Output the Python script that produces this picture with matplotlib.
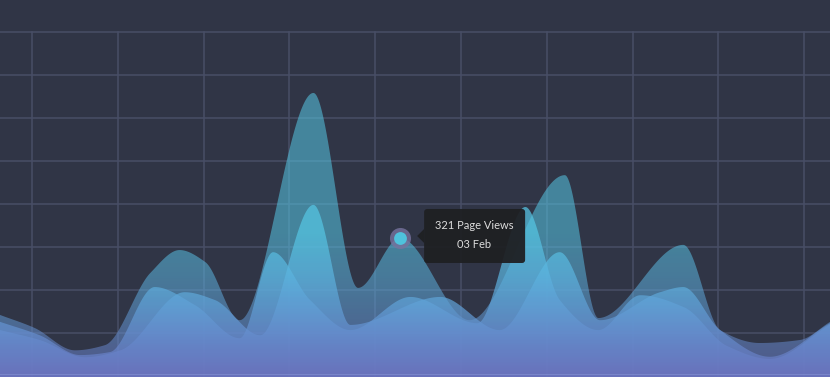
import numpy as np
import matplotlib
matplotlib.use("Agg")
import matplotlib.pyplot as plt
from matplotlib.colors import LinearSegmentedColormap
from matplotlib.patches import Polygon, FancyBboxPatch
import matplotlib.transforms as mtransforms

# page views per day (x = day index, one grid column per day)
a_x = [-0.37, 0.03, 0.50, 0.85, 1.38, 1.72, 2.02, 2.42, 3.28, 3.80, 4.29, 5.10, 6.21, 6.60, 7.59, 8.02, 8.48, 8.95, 9.30]
a_y = [142, 112, 60, 72, 240, 293, 265, 130, 658, 205, 321, 130, 467, 135, 305, 107, 77, 84, 126]

b_x = [-0.37, 0.09, 0.56, 0.91, 1.43, 1.90, 2.42, 2.81, 3.24, 3.71, 4.41, 5.19, 5.75, 6.15, 6.60, 7.09, 7.60, 8.10, 8.60, 9.30]
b_y = [126, 95, 49, 56, 207, 165, 88, 288, 177, 107, 184, 123, 393, 177, 107, 188, 160, 70, 40, 120]

c_x = [-0.37, 0.09, 0.62, 1.03, 1.78, 2.13, 2.66, 3.28, 3.71, 4.76, 5.45, 6.15, 6.62, 7.32, 7.59, 8.02, 8.60, 9.30]
c_y = [107, 84, 44, 60, 195, 177, 95, 398, 119, 184, 107, 288, 130, 195, 207, 107, 45, 123]

tip_x = 4.29
tip_views = 321
tip_date = "03 Feb"

BG = "#303546"
GRID = "#484e66"


def smooth(x, y, xs):
    # monotone cubic (pchip) through the points, for a smooth area edge
    x = np.asarray(x, float)
    y = np.asarray(y, float)
    h = np.diff(x)
    d = np.diff(y) / h
    m = np.zeros_like(y)
    for k in range(1, len(x) - 1):
        if d[k - 1] * d[k] > 0:
            w1 = 2 * h[k] + h[k - 1]
            w2 = h[k] + 2 * h[k - 1]
            m[k] = (w1 + w2) / (w1 / d[k - 1] + w2 / d[k])
    m[0], m[-1] = d[0], d[-1]
    i = np.clip(np.searchsorted(x, xs) - 1, 0, len(h) - 1)
    t = (xs - x[i]) / h[i]
    h00 = 2 * t**3 - 3 * t**2 + 1
    h10 = t**3 - 2 * t**2 + t
    h01 = -2 * t**3 + 3 * t**2
    h11 = t**3 - t**2
    return h00 * y[i] + h10 * h[i] * m[i] + h01 * y[i + 1] + h11 * h[i] * m[i + 1]


fig = plt.figure(figsize=(8.3, 3.77), dpi=100)
ax = fig.add_axes([0, 0, 1, 1])
ax.set_facecolor(BG)
x0, x1 = -0.373, 9.30
y0, y1 = -2, 874
ax.set_xlim(x0, x1)
ax.set_ylim(y0, y1)

for gx in range(0, 10):
    ax.plot([gx, gx], [y0, 800], color=GRID, lw=1.1, zorder=0)
for gy in range(100, 900, 100):
    ax.axhline(gy, color=GRID, lw=1.1, zorder=0)

cmap = LinearSegmentedColormap.from_list(
    "views", [(0.0, "#6c74c0"), (0.12, "#6590d0"), (0.26, "#5cb2de"), (0.38, "#56c6e4"), (1.0, "#58cbe6")])
grad = np.linspace(0, 1, 600).reshape(-1, 1)
xs = np.linspace(x0, x1, 1200)

for sx, sy, alpha, z in [(a_x, a_y, 0.55, 2), (b_x, b_y, 0.72, 3), (c_x, c_y, 0.72, 4)]:
    ys = smooth(sx, sy, xs)
    poly = ax.fill_between(xs, ys, y0, facecolor="none", edgecolor="none")
    im = ax.imshow(grad, extent=[x0, x1, y0, y1], origin="lower", aspect="auto",
                   cmap=cmap, alpha=alpha, zorder=z)
    im.set_clip_path(poly.get_paths()[0], transform=ax.transData)

ax.set_xlim(x0, x1)
ax.set_ylim(y0, y1)
ax.axhline(4, color="#8a98d8", lw=0.8, alpha=0.5, zorder=5)

# hovered point
ax.scatter([tip_x], [tip_views], s=230, color="#77739e", alpha=0.8, zorder=6, linewidths=0)
ax.scatter([tip_x], [tip_views], s=85, color="#4fc2dc", zorder=7, linewidths=0)

# tooltip, drawn in pixels next to the point
px, py = ax.transData.transform((tip_x, tip_views))
off = mtransforms.Affine2D().translate(px, py)
box = FancyBboxPatch((24, -25), 101, 54, boxstyle="round,pad=0,rounding_size=3",
                     transform=off, facecolor="#1f2023", edgecolor="none", alpha=0.95, zorder=8)
ax.add_patch(box)
ax.add_patch(Polygon([(17, 2), (24, 9), (24, -5)], closed=True, transform=off,
                     facecolor="#1f2023", edgecolor="none", alpha=0.95, zorder=8))
ax.text(74, 12, f"{tip_views} Page Views", transform=off, ha="center", va="center",
        color="#dcdcdc", fontsize=8, family="Lato", zorder=9)
ax.text(74, -7, tip_date, transform=off, ha="center", va="center",
        color="#dcdcdc", fontsize=8, family="Lato", zorder=9)

ax.set_xticks([])
ax.set_yticks([])
for s in ax.spines.values():
    s.set_visible(False)

plt.savefig("out.png", dpi=100, facecolor=BG)
